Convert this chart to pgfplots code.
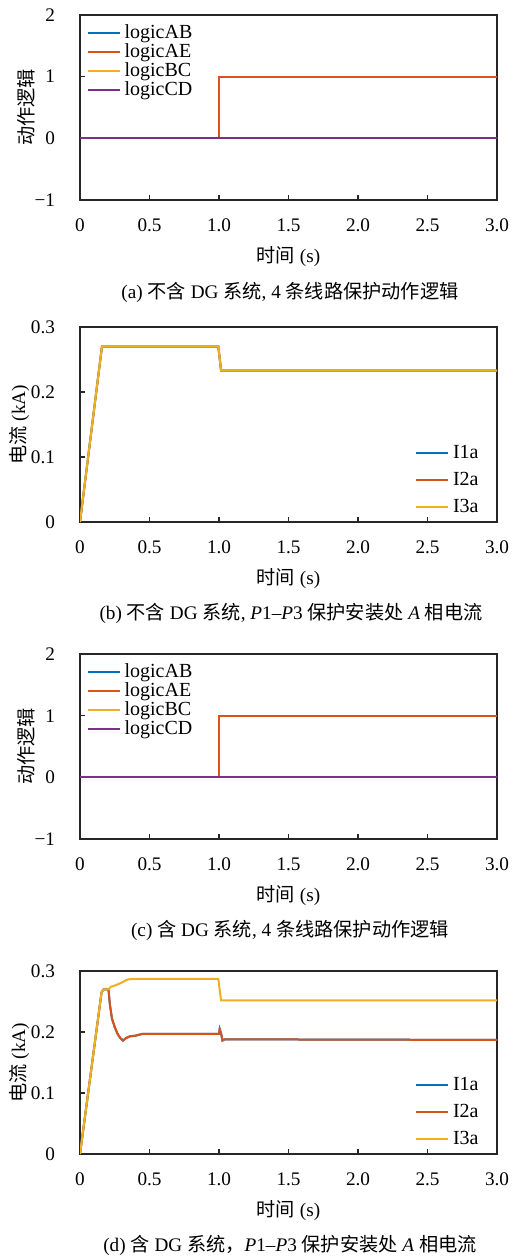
\documentclass[border=0pt]{standalone}
\usepackage{pgfplots}
\pgfplotsset{compat=1.18}
\usepackage{fontspec}
\setmainfont{Liberation Serif}
\newfontfamily\cjk{Noto Sans CJK SC}
\definecolor{mblue}{rgb}{0,0.447,0.741}
\definecolor{mred}{rgb}{0.85,0.325,0.098}
\definecolor{myel}{rgb}{0.929,0.694,0.125}
\definecolor{mpur}{rgb}{0.494,0.184,0.556}
\pgfplotsset{
  base/.style={
    scale only axis, width=208.5pt,
    xmin=0, xmax=3,
    xtick={0,0.5,1,1.5,2,2.5,3},
    xticklabels={0,0.5,1.0,1.5,2.0,2.5,3.0},
    tick align=inside, tick pos=left,
    major tick length=2.5pt,
    axis line style={line width=0.6pt, black!85},
    every tick/.style={black!85, line width=0.6pt},
    /pgf/number format/assume math mode=true,
    font=\fontsize{9.6pt}{11pt}\selectfont,
    tick label style={font=\fontsize{9.6pt}{11pt}\selectfont},
    xticklabel style={yshift=-6pt},
    yticklabel style={xshift=-9pt},
    every axis x label/.style={at={(axis description cs:0.5,0)}, anchor=center, yshift=-28.5pt},
    every axis y label/.style={at={(axis description cs:0,0.5)}, anchor=center, rotate=90},
    xlabel={{\cjk 时间} (s)},
    legend cell align=left,
    legend image code/.code={\draw[#1, line width=1pt] (0pt,0pt) -- (16pt,0pt);},
    every axis plot/.append style={line width=1pt},
  },
  logic/.style={base,
    ymin=-1, ymax=2, ytick={-1,0,1,2}, yticklabels={−1,0,1,2},
    ylabel={\cjk 动作逻辑}, ylabel style={yshift=27pt},
    legend style={at={(0,1)}, anchor=north west, draw=none, fill=none,
      xshift=3.5pt, yshift=-2.8pt, inner sep=0pt, row sep=-3pt,
      font=\fontsize{10pt}{11pt}\selectfont,
      nodes={inner xsep=1.6pt}},
  },
  curr/.style={base,
    ymin=0, ymax=0.3, ytick={0,0.1,0.2,0.3}, yticklabels={0,0.1,0.2,0.3},
    ylabel={{\cjk 电流} (kA)}, ylabel style={yshift=30.5pt},
    legend style={at={(1,0)}, anchor=south east, draw=none, fill=none,
      xshift=-7pt, yshift=1pt, inner sep=0pt, row sep=1.4pt,
      font=\fontsize{10pt}{11pt}\selectfont,
      nodes={inner xsep=2pt}},
  },
}
\begin{document}
\begin{tikzpicture}
\path[use as bounding box] (0,0) rectangle (255.5pt,-628pt);
% (a)
\begin{axis}[logic, height=92.5pt, at={(40pt,-100pt)}, anchor=south west]
\addplot[mblue] coordinates {(0,0) (3,0)};
\addplot[mred] coordinates {(0,0) (1.0,0) (1.0,1) (3,1)};
\addplot[myel] coordinates {(0,0) (3,0)};
\addplot[mpur] coordinates {(0,0) (3,0)};
\legend{logicAB,logicAE,logicBC,logicCD}
\end{axis}
\node at (145pt,-146pt) {\fontsize{9.6pt}{11pt}\selectfont (a) {\cjk 不含} DG {\cjk 系统}, 4 {\cjk 条线路保护动作逻辑}};
% (b)
\begin{axis}[curr, height=97.5pt, at={(40pt,-261pt)}, anchor=south west]
\addplot[mblue] coordinates {(0,0) (0.158,0.27) (0.995,0.27) (1.015,0.233) (3,0.233)};
\addplot[mred] coordinates {(0,0) (0.158,0.27) (0.995,0.27) (1.015,0.233) (3,0.233)};
\addplot[myel] coordinates {(0,0) (0.158,0.27) (0.995,0.27) (1.015,0.233) (3,0.233)};
\legend{I1a,I2a,I3a}
\end{axis}
\node at (145.5pt,-306.5pt) {\fontsize{9.6pt}{11pt}\selectfont (b) {\cjk 不含} DG {\cjk 系统}, \textit{P}1–\textit{P}3 {\cjk 保护安装处} \textit{A} {\cjk 相电流}};
% (c)
\begin{axis}[logic, height=92.5pt, at={(40pt,-419.5pt)}, anchor=south west]
\addplot[mblue] coordinates {(0,0) (3,0)};
\addplot[mred] coordinates {(0,0) (1.0,0) (1.0,1) (3,1)};
\addplot[myel] coordinates {(0,0) (3,0)};
\addplot[mpur] coordinates {(0,0) (3,0)};
\legend{logicAB,logicAE,logicBC,logicCD}
\end{axis}
\node at (145pt,-465pt) {\fontsize{9.6pt}{11pt}\selectfont (c) {\cjk 含} DG {\cjk 系统}, 4 {\cjk 条线路保护动作逻辑}};
% (d)
\begin{axis}[curr, height=91.5pt, at={(40pt,-577pt)}, anchor=south west]
\addplot[mblue] coordinates {(0,0) (0.155,0.265) (0.17,0.27) (0.205,0.27) (0.215,0.245) (0.23,0.222) (0.25,0.208) (0.27,0.197) (0.29,0.19) (0.31,0.186) (0.33,0.19) (0.36,0.193) (0.40,0.194) (0.45,0.197) (1.0,0.197) (1.005,0.205) (1.015,0.198) (1.025,0.186) (1.04,0.188) (3,0.187)};
\addplot[mred] coordinates {(0,0) (0.155,0.265) (0.17,0.27) (0.205,0.27) (0.215,0.245) (0.23,0.222) (0.25,0.208) (0.27,0.197) (0.29,0.19) (0.31,0.186) (0.33,0.19) (0.36,0.193) (0.40,0.194) (0.45,0.197) (1.0,0.197) (1.005,0.205) (1.015,0.198) (1.025,0.186) (1.04,0.188) (3,0.187)};
\addplot[myel] coordinates {(0,0) (0.155,0.265) (0.17,0.27) (0.205,0.27) (0.22,0.274) (0.26,0.277) (0.3,0.281) (0.34,0.286) (0.38,0.287) (0.995,0.287) (1.015,0.252) (3,0.252)};
\legend{I1a,I2a,I3a}
\end{axis}
\node at (145pt,-622.5pt) {\fontsize{9.6pt}{11pt}\selectfont (d) {\cjk 含} DG {\cjk 系统，}\textit{P}1–\textit{P}3 {\cjk 保护安装处} \textit{A} {\cjk 相电流}};
\end{tikzpicture}
\end{document}
